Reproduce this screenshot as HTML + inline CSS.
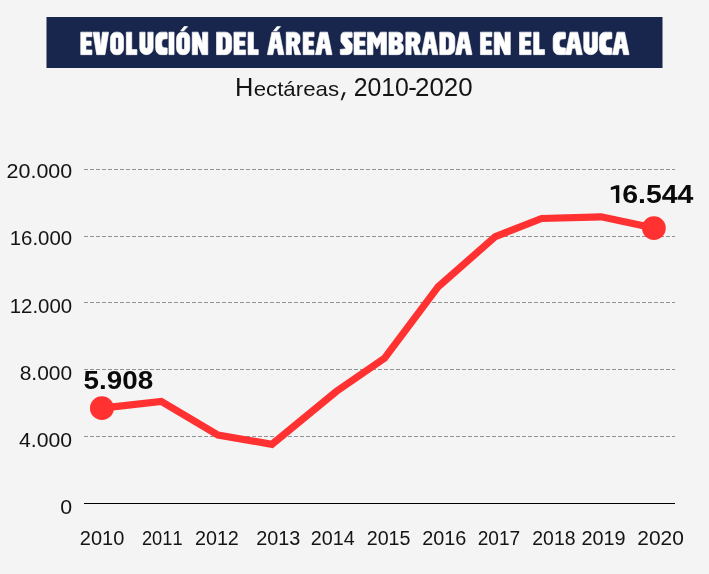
<!DOCTYPE html>
<html lang="es"><head><meta charset="utf-8"><title>Evolución del área sembrada en el Cauca</title>
<style>html,body{margin:0;padding:0;background:#f4f4f4;}body{width:709px;height:574px;overflow:hidden;font-family:"Liberation Sans",sans-serif;}svg{display:block;will-change:transform;}text{font-family:"Liberation Sans",sans-serif;font-kerning:none;white-space:pre;}</style></head><body>
<svg width="709" height="574" viewBox="0 0 709 574">
<rect width="709" height="574" fill="#f4f4f4"/>
<rect x="46.5" y="17" width="616" height="51" fill="#18254d"/>
<g fill="#fff" fill-rule="evenodd" stroke="#fff" stroke-width="0.7" stroke-linejoin="round">
<g transform="translate(80.75 32.15) scale(0.94 0.97)"><path d="M 0 0 H 11.9 V 4.7 H 5.5 V 9.15 H 11.07 V 13.85 H 5.5 V 18.3 H 11.9 V 23.2 H 0 Z"/></g>
<g transform="translate(93.05 32.15) scale(0.96 0.97)"><path d="M 0 0 H 6.4 L 8.1 15.6 L 9.8 0 H 16.2 L 12.4 23.2 H 3.8 Z"/></g>
<g transform="translate(110.45 32.15) scale(0.95 0.97)"><path d="M 5.6 0 H 8.2 A 5.6 6.6 0 0 1 13.8 6.6 V 16.6 A 5.6 6.6 0 0 1 8.2 23.2 H 5.6 A 5.6 6.6 0 0 1 0 16.6 V 6.6 A 5.6 6.6 0 0 1 5.6 0 Z M 6.9 5.2 H 6.9 A 1.45 1.45 0 0 1 8.35 6.65 V 16.55 A 1.45 1.45 0 0 1 6.9 18 H 6.9 A 1.45 1.45 0 0 1 5.45 16.55 V 6.65 A 1.45 1.45 0 0 1 6.9 5.2 Z"/></g>
<g transform="translate(126.35 32.15) scale(0.94 0.97)"><path d="M 0 0 H 5.7 V 18 H 11.2 V 23.2 H 0 Z"/></g>
<g transform="translate(139.75 32.15) scale(0.95 0.97)"><path d="M 0 0 H 5.6 V 15.15 A 1.45 1.45 0 0 0 8.5 15.15 V 0 H 14.1 V 16.4 A 7.05 6.8 0 0 1 0 16.4 Z"/></g>
<g transform="translate(155.65 32.15) scale(0.94 0.97)"><path d="M 5.8 0 H 11.3 Q 12.3 0 12.3 1.2 V 6.7 L 9.3 7.1 Q 6.4 7.1 6.4 11.5 V 11.6 Q 6.4 16 9.3 16 L 12.3 16.4 V 22 Q 12.3 23.2 11.3 23.2 H 5.8 A 5.8 6.6 0 0 1 0 16.6 V 6.6 A 5.8 6.6 0 0 1 5.8 0 Z"/></g>
<g transform="translate(168.95 32.15) scale(0.88 0.97)"><path d="M 0 0 H 5.8 V 23.2 H 0 Z"/></g>
<g transform="translate(176.55 32.15) scale(0.95 0.97)"><path d="M 5.6 0 H 8.3 A 5.6 6.6 0 0 1 13.9 6.6 V 16.6 A 5.6 6.6 0 0 1 8.3 23.2 H 5.6 A 5.6 6.6 0 0 1 0 16.6 V 6.6 A 5.6 6.6 0 0 1 5.6 0 Z M 6.95 5.2 H 6.95 A 1.5 1.5 0 0 1 8.45 6.7 V 16.5 A 1.5 1.5 0 0 1 6.95 18 H 6.95 A 1.5 1.5 0 0 1 5.45 16.5 V 6.7 A 1.5 1.5 0 0 1 6.95 5.2 Z"/><path d="M 4.3 -1.3 H 7.5 L 11.7 -5.7 H 7.9 Z"/></g>
<g transform="translate(192.25 32.15) scale(0.96 0.97)"><path d="M 0 0 H 6 L 10.7 11.6 V 0 H 16.2 V 23.2 H 10.2 L 5.5 11.6 V 23.2 H 0 Z"/></g>
<g transform="translate(216.55 32.15) scale(0.96 0.97)"><path d="M 0 0 H 9.5 A 6.2 6.8 0 0 1 15.7 6.8 V 16.4 A 6.2 6.8 0 0 1 9.5 23.2 H 0 Z M 6 4.8 V 18.4 H 7.4 A 2.4 3 0 0 0 9.8 15.4 V 7.8 A 2.4 3 0 0 0 7.4 4.8 Z"/></g>
<g transform="translate(233.95 32.15) scale(0.94 0.97)"><path d="M 0 0 H 12.4 V 4.7 H 5.5 V 9.15 H 11.53 V 13.85 H 5.5 V 18.3 H 12.4 V 23.2 H 0 Z"/></g>
<g transform="translate(248.05 32.15) scale(0.94 0.97)"><path d="M 0 0 H 5.7 V 18 H 10.9 V 23.2 H 0 Z"/></g>
<g transform="translate(267.35 32.15) scale(0.96 0.97)"><path d="M 0 23.2 L 4.75 0 H 12.55 L 17.3 23.2 H 11.6 L 10.25 16.6 H 7.05 L 5.7 23.2 Z M 8.65 5.6 L 7.15 12.6 H 10.15 Z"/><path d="M 6.4 -1.3 H 9.6 L 13.8 -5.7 H 10 Z"/></g>
<g transform="translate(286.25 32.15) scale(0.95 0.97)"><path d="M 0 0 H 8.5 A 6 5.6 0 0 1 14.5 5.6 V 8.4 A 6 5.4 0 0 1 11.3 13.2 L 15.3 23.2 H 9.1 L 7.5 14.4 H 5.5 V 23.2 H 0 Z M 5.7 5.3 V 9.9 H 7.3 A 1.8 2.3 0 0 0 7.3 5.3 Z"/></g>
<g transform="translate(303.15 32.15) scale(0.94 0.97)"><path d="M 0 0 H 11.6 V 4.7 H 5.5 V 9.15 H 10.79 V 13.85 H 5.5 V 18.3 H 11.6 V 23.2 H 0 Z"/></g>
<g transform="translate(315.45 32.15) scale(0.96 0.97)"><path d="M 0 23.2 L 4.75 0 H 12.55 L 17.3 23.2 H 11.6 L 10.25 16.6 H 7.05 L 5.7 23.2 Z M 8.65 5.6 L 7.15 12.6 H 10.15 Z"/></g>
<g transform="translate(340.25 32.15) scale(0.94 0.97)"><path d="M 4.8 0 H 11.9 Q 12.7 0 12.7 0.8 V 5.3 L 8.2 5.9 Q 7.2 6.1 7.9 6.9 L 12.7 12.3 V 17.4 Q 12.7 23.2 7.2 23.2 H 1 Q 0 23.2 0 22.2 V 17.8 L 5.2 17.3 Q 6.3 17.1 5.6 16.2 L 0.7 9.9 V 5.2 Q 0.7 0 4.8 0 Z"/></g>
<g transform="translate(354.05 32.15) scale(0.94 0.97)"><path d="M 0 0 H 12.3 V 4.7 H 5.5 V 9.15 H 11.44 V 13.85 H 5.5 V 18.3 H 12.3 V 23.2 H 0 Z"/></g>
<g transform="translate(367.45 32.15) scale(0.96 0.97)"><path d="M 0 0 H 6.2 L 9.9 7.4 L 13.6 0 H 19.8 V 23.2 H 14.1 V 9 L 9.9 17.4 L 5.7 9 V 23.2 H 0 Z"/></g>
<g transform="translate(388.95 32.15) scale(0.95 0.97)"><path d="M 0 0 H 9.2 A 5.4 5 0 0 1 14.6 5 V 7.4 A 4.6 4.2 0 0 1 12 11.2 A 5 4.6 0 0 1 15.2 15.8 V 17.8 A 5.8 5.4 0 0 1 9.4 23.2 H 0 Z M 5.6 4.7 V 8.9 H 7.4 A 1.7 2.1 0 0 0 7.4 4.7 Z M 5.6 13.5 V 18.1 H 7.6 A 1.9 2.3 0 0 0 7.6 13.5 Z"/></g>
<g transform="translate(405.85 32.15) scale(0.96 0.97)"><path d="M 0 0 H 8.9 A 6 5.6 0 0 1 14.9 5.6 V 8.4 A 6 5.4 0 0 1 11.7 13.2 L 15.7 23.2 H 9.5 L 7.5 14.4 H 5.5 V 23.2 H 0 Z M 5.7 5.3 V 9.9 H 7.3 A 1.8 2.3 0 0 0 7.3 5.3 Z"/></g>
<g transform="translate(421.55 32.15) scale(0.96 0.97)"><path d="M 0 23.2 L 4.65 0 H 12.45 L 17.1 23.2 H 11.4 L 10.08 16.6 H 7.02 L 5.7 23.2 Z M 8.55 5.6 L 7.05 12.6 H 10.05 Z"/></g>
<g transform="translate(439.75 32.15) scale(0.96 0.97)"><path d="M 0 0 H 9.5 A 6.2 6.8 0 0 1 15.7 6.8 V 16.4 A 6.2 6.8 0 0 1 9.5 23.2 H 0 Z M 6 4.8 V 18.4 H 7.4 A 2.4 3 0 0 0 9.8 15.4 V 7.8 A 2.4 3 0 0 0 7.4 4.8 Z"/></g>
<g transform="translate(455.45 32.15) scale(0.96 0.97)"><path d="M 0 23.2 L 4.75 0 H 12.55 L 17.3 23.2 H 11.6 L 10.25 16.6 H 7.05 L 5.7 23.2 Z M 8.65 5.6 L 7.15 12.6 H 10.15 Z"/></g>
<g transform="translate(480.45 32.15) scale(0.94 0.97)"><path d="M 0 0 H 12.2 V 4.7 H 5.5 V 9.15 H 11.35 V 13.85 H 5.5 V 18.3 H 12.2 V 23.2 H 0 Z"/></g>
<g transform="translate(494.25 32.15) scale(0.96 0.97)"><path d="M 0 0 H 6 L 11.2 11.6 V 0 H 16.7 V 23.2 H 10.7 L 5.5 11.6 V 23.2 H 0 Z"/></g>
<g transform="translate(519.55 32.15) scale(0.94 0.97)"><path d="M 0 0 H 12.3 V 4.7 H 5.5 V 9.15 H 11.44 V 13.85 H 5.5 V 18.3 H 12.3 V 23.2 H 0 Z"/></g>
<g transform="translate(533.65 32.15) scale(0.94 0.97)"><path d="M 0 0 H 5.7 V 18 H 11.6 V 23.2 H 0 Z"/></g>
<g transform="translate(553.15 32.15) scale(0.95 0.97)"><path d="M 5.8 0 H 12 Q 13 0 13 1.2 V 6.7 L 10 7.1 Q 6.4 7.1 6.4 11.5 V 11.6 Q 6.4 16 10 16 L 13 16.4 V 22 Q 13 23.2 12 23.2 H 5.8 A 5.8 6.6 0 0 1 0 16.6 V 6.6 A 5.8 6.6 0 0 1 5.8 0 Z"/></g>
<g transform="translate(565.45 32.15) scale(0.96 0.97)"><path d="M 0 23.2 L 4.9 0 H 12.7 L 17.6 23.2 H 11.9 L 10.51 16.6 H 7.09 L 5.7 23.2 Z M 8.8 5.6 L 7.3 12.6 H 10.3 Z"/></g>
<g transform="translate(583.75 32.15) scale(0.95 0.97)"><path d="M 0 0 H 5.6 V 14.9 A 1.7 1.7 0 0 0 9 14.9 V 0 H 14.6 V 16.4 A 7.3 6.8 0 0 1 0 16.4 Z"/></g>
<g transform="translate(599.45 32.15) scale(0.95 0.97)"><path d="M 5.8 0 H 12.1 Q 13.1 0 13.1 1.2 V 6.7 L 10.1 7.1 Q 6.4 7.1 6.4 11.5 V 11.6 Q 6.4 16 10.1 16 L 13.1 16.4 V 22 Q 13.1 23.2 12.1 23.2 H 5.8 A 5.8 6.6 0 0 1 0 16.6 V 6.6 A 5.8 6.6 0 0 1 5.8 0 Z"/></g>
<g transform="translate(612.55 32.15) scale(0.96 0.97)"><path d="M 0 23.2 L 4.7 0 H 12.5 L 17.2 23.2 H 11.5 L 10.16 16.6 H 7.04 L 5.7 23.2 Z M 8.6 5.6 L 7.1 12.6 H 10.1 Z"/></g>
</g>
<text transform="translate(235.11 96.20) scale(0.9771 1)" font-size="26.02" font-weight="normal" fill="#141414" >H</text>
<text transform="translate(253.65 96.20) scale(1.0794 1)" font-size="20.64" font-weight="normal" fill="#141414" >ectáreas</text>
<path d="M343.3 92.3 H345.7 L342.4 100.2 H340.7 Z" fill="#141414"/>
<text transform="translate(353.65 96.20) scale(0.9540 1)" font-size="26.02" font-weight="normal" fill="#141414" >2010</text>
<text transform="translate(408.15 96.20) scale(0.9918 1)" font-size="26.02" font-weight="normal" fill="#141414" >-</text>
<text transform="translate(415.00 96.20) scale(0.9954 1)" font-size="26.02" font-weight="normal" fill="#141414" >2020</text>
<line x1="84" x2="675" y1="169.5" y2="169.5" stroke="#929292" stroke-width="1" stroke-dasharray="4 2" shape-rendering="crispEdges"/>
<line x1="84" x2="675" y1="236.5" y2="236.5" stroke="#929292" stroke-width="1" stroke-dasharray="4 2" shape-rendering="crispEdges"/>
<line x1="84" x2="675" y1="302.5" y2="302.5" stroke="#929292" stroke-width="1" stroke-dasharray="4 2" shape-rendering="crispEdges"/>
<line x1="84" x2="675" y1="369.5" y2="369.5" stroke="#929292" stroke-width="1" stroke-dasharray="4 2" shape-rendering="crispEdges"/>
<line x1="84" x2="675" y1="436.5" y2="436.5" stroke="#929292" stroke-width="1" stroke-dasharray="4 2" shape-rendering="crispEdges"/>
<line x1="84" x2="675" y1="503.5" y2="503.5" stroke="#000" stroke-width="1" shape-rendering="crispEdges"/>
<text transform="translate(6.62 178.20) scale(1.0543 1)" font-size="20.35" font-weight="normal" fill="#141414" >20.000</text>
<text transform="translate(9.74 245.20) scale(1.0034 1)" font-size="20.35" font-weight="normal" fill="#141414" >16.000</text>
<text transform="translate(9.74 313.20) scale(1.0034 1)" font-size="20.35" font-weight="normal" fill="#141414" >12.000</text>
<text transform="translate(19.69 379.90) scale(1.0296 1)" font-size="20.35" font-weight="normal" fill="#141414" >8.000</text>
<text transform="translate(19.01 447.10) scale(1.0431 1)" font-size="20.35" font-weight="normal" fill="#141414" >4.000</text>
<text transform="translate(60.27 514.20) scale(1.0486 1)" font-size="20.35" font-weight="normal" fill="#141414" >0</text>
<text transform="translate(79.79 545.00) scale(0.9827 1)" font-size="20.35" font-weight="normal" fill="#141414" >2010</text>
<text transform="translate(141.88 545.00) scale(0.8994 1)" font-size="20.35" font-weight="normal" fill="#141414" >2011</text>
<text transform="translate(194.91 545.00) scale(0.9717 1)" font-size="20.35" font-weight="normal" fill="#141414" >2012</text>
<text transform="translate(256.20 545.00) scale(0.9757 1)" font-size="20.35" font-weight="normal" fill="#141414" >2013</text>
<text transform="translate(310.81 545.00) scale(0.9714 1)" font-size="20.35" font-weight="normal" fill="#141414" >2014</text>
<text transform="translate(366.71 545.00) scale(0.9679 1)" font-size="20.35" font-weight="normal" fill="#141414" >2015</text>
<text transform="translate(422.20 545.00) scale(0.9757 1)" font-size="20.35" font-weight="normal" fill="#141414" >2016</text>
<text transform="translate(477.64 545.00) scale(0.9393 1)" font-size="20.35" font-weight="normal" fill="#141414" >2017</text>
<text transform="translate(532.33 545.00) scale(0.9525 1)" font-size="20.35" font-weight="normal" fill="#141414" >2018</text>
<text transform="translate(581.40 545.00) scale(0.9773 1)" font-size="20.35" font-weight="normal" fill="#141414" >2019</text>
<text transform="translate(637.25 545.00) scale(1.0288 1)" font-size="20.35" font-weight="normal" fill="#141414" >2020</text>
<polyline fill="none" stroke="#ff3131" stroke-width="7.2" stroke-linejoin="miter" points="101.9,408.2 161.3,401.4 218.0,435.0 271.9,444.3 336.4,391.4 384.6,358.1 438.2,286.7 495.3,236.6 541.6,218.5 601.2,216.8 653.9,228.1"/>
<circle cx="101.9" cy="408.2" r="11.9" fill="#ff3131"/>
<circle cx="653.9" cy="228.1" r="11.9" fill="#ff3131"/>
<text transform="translate(83.54 389.00) scale(1.0752 1)" font-size="25.87" font-weight="bold" fill="#0a0a0a" >5.908</text>
<path d="M610.8 187.3 L616.4 185.2 H619.3 V202.9 H615.9 V188.7 L610.8 190.1 Z" fill="#0a0a0a"/>
<text transform="translate(622.16 202.90) scale(1.1074 1)" font-size="25.73" font-weight="bold" fill="#0a0a0a" >6.544</text>
</svg></body></html>
